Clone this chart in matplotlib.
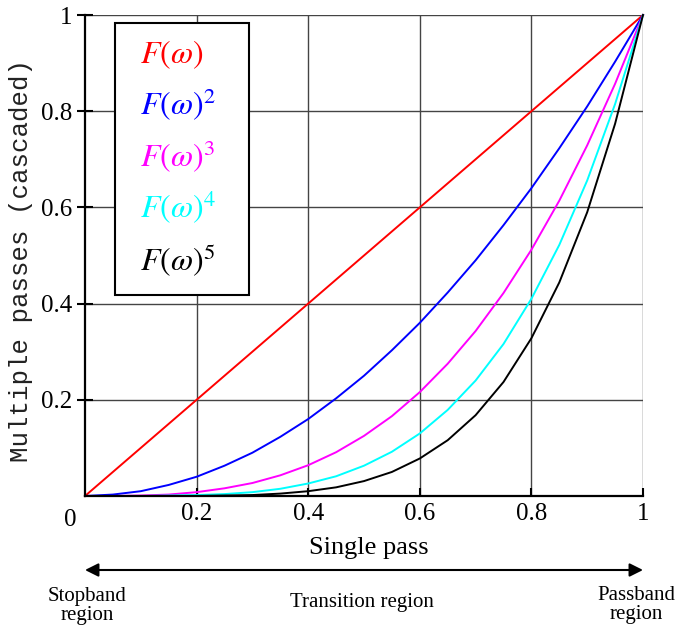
import matplotlib
matplotlib.use("Agg")
import matplotlib.pyplot as plt
from matplotlib.patches import Rectangle

# ---- data ----
single_pass = [0.00, 0.05, 0.10, 0.15, 0.20, 0.25, 0.30, 0.35, 0.40, 0.45, 0.50,
               0.55, 0.60, 0.65, 0.70, 0.75, 0.80, 0.85, 0.90, 0.95, 1.00]
pass1 = [0.00, 0.05, 0.10, 0.15, 0.20, 0.25, 0.30, 0.35, 0.40, 0.45, 0.50,
         0.55, 0.60, 0.65, 0.70, 0.75, 0.80, 0.85, 0.90, 0.95, 1.00]
pass2 = [0.000, 0.003, 0.010, 0.023, 0.040, 0.063, 0.090, 0.123, 0.160, 0.203, 0.250,
         0.303, 0.360, 0.423, 0.490, 0.563, 0.640, 0.723, 0.810, 0.903, 1.000]
pass3 = [0.000, 0.000, 0.001, 0.003, 0.008, 0.016, 0.027, 0.043, 0.064, 0.091, 0.125,
         0.166, 0.216, 0.275, 0.343, 0.422, 0.512, 0.614, 0.729, 0.857, 1.000]
pass4 = [0.000, 0.000, 0.000, 0.001, 0.002, 0.004, 0.008, 0.015, 0.026, 0.041, 0.063,
         0.092, 0.130, 0.179, 0.240, 0.316, 0.410, 0.522, 0.656, 0.815, 1.000]
pass5 = [0.000, 0.000, 0.000, 0.000, 0.000, 0.001, 0.002, 0.005, 0.010, 0.018, 0.031,
         0.050, 0.078, 0.116, 0.168, 0.237, 0.328, 0.444, 0.590, 0.774, 1.000]
series = [pass1, pass2, pass3, pass4, pass5]
series_colors = ["#ff0000", "#0000ff", "#ff00ff", "#00ffff", "#000000"]
series_labels = [r"$F(\omega)$", r"$F(\omega)^2$", r"$F(\omega)^3$",
                 r"$F(\omega)^4$", r"$F(\omega)^5$"]
x_ticks = [0.2, 0.4, 0.6, 0.8, 1.0]
x_ticklabels = ["0.2", "0.4", "0.6", "0.8", "1"]
y_ticks = [0.2, 0.4, 0.6, 0.8, 1.0]
y_ticklabels = ["0.2", "0.4", "0.6", "0.8", "1"]

plt.rcParams["mathtext.fontset"] = "stix"
serif = "Liberation Serif"

W, H = 679, 631
fig = plt.figure(figsize=(W / 100, H / 100), dpi=100)
ax = fig.add_axes([85 / W, 135 / H, 558 / W, 481 / H])

for vals, c in zip(series, series_colors):
    ax.plot(single_pass, vals, color=c, lw=1.4, zorder=4, clip_on=False)

ax.set_xlim(0, 1)
ax.set_ylim(0, 1)
ax.set_xticks(x_ticks)
ax.set_xticklabels(x_ticklabels, fontfamily=serif, fontsize=18)
ax.set_yticks(y_ticks)
ax.set_yticklabels(y_ticklabels, fontfamily=serif, fontsize=18)
ax.tick_params(axis="x", direction="in", length=6, width=1.5, pad=5)
ax.tick_params(axis="y", direction="inout", length=12, width=1.5, pad=3)
ax.grid(True, color="#444444", lw=1.0, zorder=1)
ax.set_axisbelow(True)
for s in ["top", "right"]:
    ax.spines[s].set_visible(False)
for s in ["left", "bottom"]:
    ax.spines[s].set_linewidth(1.6)
    ax.spines[s].set_zorder(5)

# origin label
ax.text(-0.027, -0.05, "0", transform=ax.transAxes, ha="center", va="center",
        fontfamily=serif, fontsize=18)

# y label
fig.text(21 / W, 1 - 261 / H, "Multiple passes (cascaded)", rotation=90,
         ha="center", va="center", fontfamily="Liberation Mono", fontsize=18.5,
         color="#222222")

# x label
fig.text(369 / W, 1 - 548 / H, "Single pass", ha="center", va="center",
         fontfamily=serif, fontsize=19)

# legend box
ax.add_patch(Rectangle((0.054, 0.418), 0.240, 0.565, transform=ax.transAxes,
                       facecolor="white", edgecolor="black", lw=1.5, zorder=3))
baselines = [0.900, 0.792, 0.684, 0.578, 0.470]
for lab, c, yb in zip(series_labels, series_colors, baselines):
    ax.text(0.0986, yb, lab, transform=ax.transAxes, color=c, fontsize=23,
            ha="left", va="baseline", zorder=6)

# bottom arrow and region labels
ax.annotate("", xy=(0, 1 - 570 / H), xytext=(1, 1 - 570 / H),
            xycoords=("data", "figure fraction"),
            textcoords=("data", "figure fraction"),
            arrowprops=dict(arrowstyle="<|-|>", color="black", lw=1.5,
                            mutation_scale=20, shrinkA=0, shrinkB=0),
            annotation_clip=False)
fig.text(87 / W, 1 - 606 / H, "Stopband\nregion", ha="center", va="center",
         fontfamily=serif, fontsize=15, linespacing=1.05)
fig.text(362 / W, 1 - 602 / H, "Transition region", ha="center", va="center",
         fontfamily=serif, fontsize=15)
fig.text(636 / W, 1 - 605 / H, "Passband\nregion", ha="center", va="center",
         fontfamily=serif, fontsize=15, linespacing=1.05)

fig.savefig("out.png", dpi=100)
